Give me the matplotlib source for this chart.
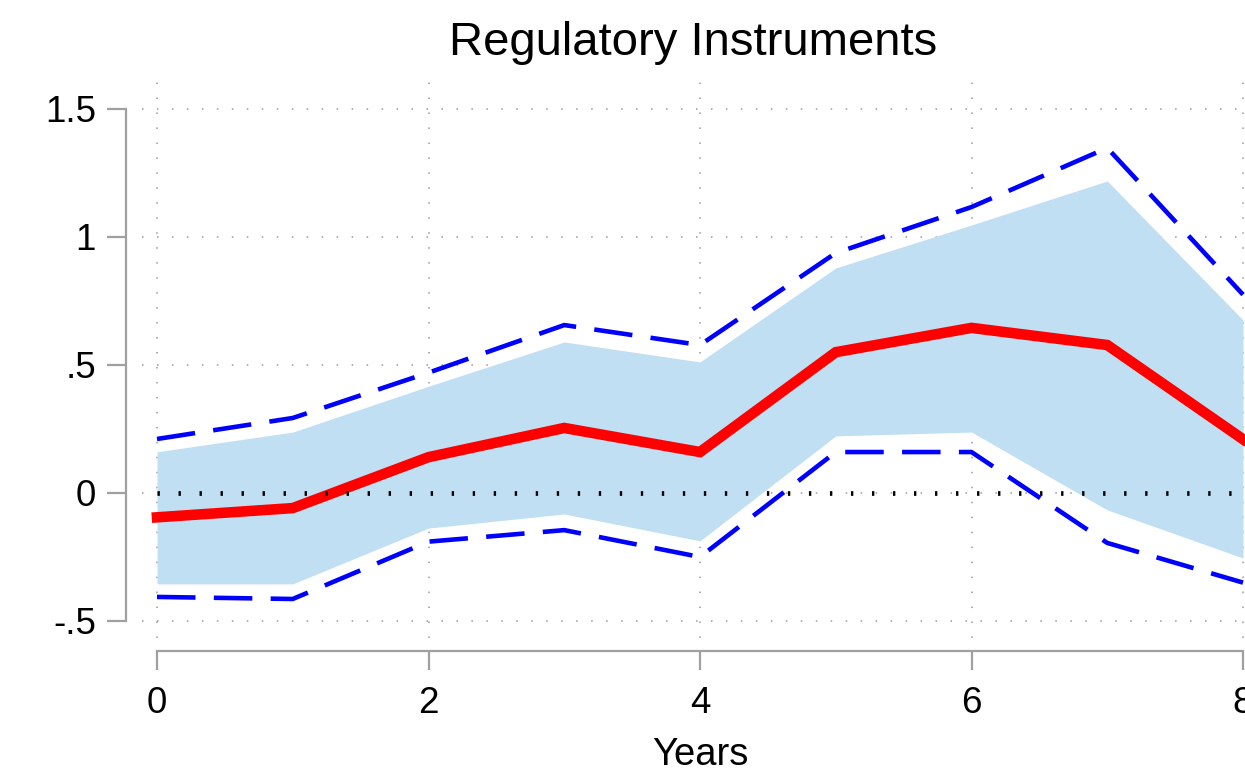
import matplotlib
matplotlib.use("Agg")
import matplotlib.pyplot as plt

plt.rcParams["font.family"] = ["Liberation Sans", "DejaVu Sans"]

# Event-time horizon (years) and estimated effects with two confidence bands
years = [0, 1, 2, 3, 4, 5, 6, 7, 8]
estimate = [-0.095, -0.059, 0.14, 0.254, 0.16, 0.55, 0.645, 0.578, 0.21]
band_lo = [-0.355, -0.355, -0.137, -0.082, -0.187, 0.223, 0.238, -0.066, -0.254]
band_hi = [0.161, 0.238, 0.417, 0.59, 0.512, 0.879, 1.047, 1.219, 0.676]
wide_lo = [-0.406, -0.414, -0.19, -0.145, -0.25, 0.16, 0.16, -0.195, -0.35]
wide_hi = [0.211, 0.293, 0.47, 0.656, 0.578, 0.9375, 1.117, 1.348, 0.775]

xticks = [0, 2, 4, 6, 8]
xtick_labels = ["0", "2", "4", "6", "8"]
yticks = [-0.5, 0, 0.5, 1, 1.5]
ytick_labels = ["-.5", "0", ".5", "1", "1.5"]

W, H = 1245, 778
fig = plt.figure(figsize=(W / 100, H / 100), dpi=100)

# plot region in pixels
left_px, right_px, top_px, bot_px = 142, 1258, 81, 637.5
ax = fig.add_axes([left_px / W, 1 - bot_px / H,
                   (right_px - left_px) / W, (bot_px - top_px) / H])

ax.set_xlim(-15 / 135.75, 8 + 15 / 135.75)
ax.set_ylim(-0.5 - 16.5 / 256, 1.5 + 28 / 256)

grid_kw = dict(color="#9a9a9a", lw=1.1, linestyle=(0, (1, 8.8)), zorder=0)
for yv in yticks:
    ax.axhline(yv, **grid_kw)
for xv in xticks:
    ax.axvline(xv, **grid_kw)

ax.fill_between(years, band_lo, band_hi, color="#c1dff2", lw=0, zorder=1)
ax.plot(years, wide_hi, color="#0000ff", lw=3.3, dashes=(8.4, 4.0),
        solid_capstyle="butt", dash_capstyle="butt", zorder=2)
ax.plot(years, wide_lo, color="#0000ff", lw=3.3, dashes=(8.4, 4.0),
        solid_capstyle="butt", dash_capstyle="butt", zorder=2)
ax.plot(years, estimate, color="#ff0000", lw=7.6, solid_joinstyle="miter",
        zorder=3)
ax.plot([0, 8], [0, 0], color="black", lw=3.4,
        linestyle=(0, (0.5, 3.95)), zorder=4)

for side in ("top", "right"):
    ax.spines[side].set_visible(False)
for side in ("left", "bottom"):
    ax.spines[side].set_color("#a0a0a0")
    ax.spines[side].set_linewidth(1.6)
ax.spines["left"].set_position(("outward", 11.5))
ax.spines["bottom"].set_position(("outward", 10))
ax.spines["left"].set_bounds(-0.5, 1.5)
ax.spines["bottom"].set_bounds(0, 8)

ax.set_xticks(xticks)
ax.set_xticklabels(xtick_labels)
ax.set_yticks(yticks)
ax.set_yticklabels(ytick_labels)
ax.tick_params(axis="both", length=13.7, width=1.6, color="#a0a0a0",
               labelsize=26.5, labelcolor="black")
ax.tick_params(axis="y", pad=8)
ax.tick_params(axis="x", pad=11)

ax.set_xlabel("Years", fontsize=27.5, labelpad=12)
fig.text(693 / W, 1 - 55 / H, "Regulatory Instruments", fontsize=34,
         ha="center", va="baseline")

fig.savefig("out.png", dpi=100)
